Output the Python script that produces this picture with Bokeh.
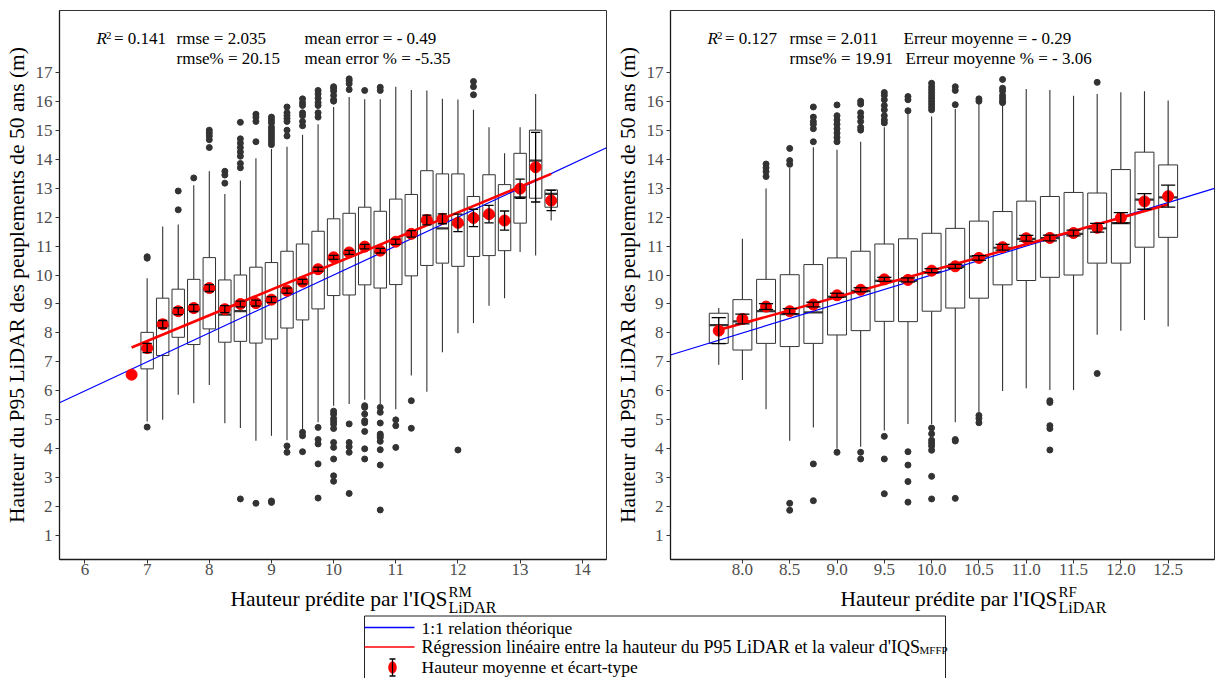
import numpy as np
from bokeh.plotting import figure
from bokeh.models import Range1d, Label, FixedTicker, NumeralTickFormatter
from bokeh.layouts import row, column
from bokeh.embed import file_html
from bokeh.resources import INLINE
from bokeh.core.properties import value

FONT = "Liberation Serif"

# ---------------- Left panel : IQS RM LiDAR ----------------
rm_pos = [7.0, 7.25, 7.5, 7.75, 8.0, 8.25, 8.5, 8.75, 9.0, 9.25, 9.5, 9.75, 10.0, 10.25,
          10.5, 10.75, 11.0, 11.25, 11.5, 11.75, 12.0, 12.25, 12.5, 12.75, 13.0, 13.25, 13.5]
rm_low = [4.94, 5.0, 5.87, 5.57, 6.2, 4.88, 4.72, 4.28, 4.45, 4.3, 4.63, 4.92, 5.49, 5.55,
          5.69, 5.55, 5.37, 6.53, 5.97, 7.33, 7.99, 8.34, 8.94, 9.2, 10.79, 10.67, 11.88]
rm_q1 = [6.76, 7.22, 7.85, 7.6, 8.14, 7.68, 7.71, 7.65, 7.79, 8.17, 8.45, 8.83, 9.29, 9.31,
         9.66, 9.55, 9.67, 9.97, 10.33, 10.41, 10.3, 10.64, 10.67, 10.84, 11.79, 12.65, 12.34]
rm_med = [7.45, 8.25, 8.7, 8.8, 9.5, 8.63, 8.75, 9.0, 9.1, 9.4, 9.75, 10.15, 10.55, 10.75,
          10.95, 10.8, 11.1, 11.4, 11.85, 11.61, 11.75, 11.95, 12.05, 11.85, 12.68, 13.95, 12.8]
rm_q3 = [8.02, 9.2, 9.51, 9.85, 10.6, 9.83, 10.0, 10.27, 10.43, 10.82, 11.07, 11.51, 11.94, 12.13,
         12.34, 12.2, 12.62, 12.78, 13.6, 13.49, 13.49, 12.71, 13.46, 13.12, 14.2, 15.0, 12.94]
rm_high = [9.89, 11.67, 11.74, 13.1, 13.58, 12.8, 13.26, 14.03, 14.35, 14.43, 14.84, 15.2, 15.8, 16.14,
           16.07, 16.07, 16.5, 16.39, 16.37, 16.08, 16.06, 15.7, 15.1, 14.2, 15.1, 16.25, 12.94]
rm_outliers = [
    [10.63, 10.58, 4.75], [], [12.9, 12.25], [13.35], [15.0, 14.9, 14.8, 14.67, 14.4],
    [13.58, 13.45, 13.17],
    [15.27, 14.7, 14.55, 14.4, 14.25, 14.1, 13.85, 13.7, 2.27],
    [15.55, 15.45, 15.3, 14.6, 2.12],
    [15.45, 15.35, 15.25, 15.1, 15.0, 14.9, 14.8, 14.7, 14.6, 14.5, 2.2, 2.15],
    [15.8, 15.6, 15.5, 15.4, 15.3, 15.0, 14.8, 4.1, 3.88],
    [16.08, 15.95, 15.85, 15.6, 15.5, 15.3, 15.15, 4.57, 4.45, 3.9],
    [16.37, 16.25, 16.1, 15.95, 15.85, 15.6, 15.45, 4.74, 4.32, 4.17, 3.48, 2.3],
    [16.5, 16.45, 16.35, 16.2, 16.05, 16.0, 5.3, 5.2, 5.05, 4.95, 4.85, 4.7, 4.22, 4.05, 3.65, 3.07, 2.88],
    [16.77, 16.7, 16.6, 16.4, 4.86, 4.22, 4.07, 3.88, 2.46],
    [16.37, 5.49, 5.43, 5.2, 4.97, 4.9, 4.6, 4.0, 3.65],
    [16.48, 16.37, 5.43, 5.26, 4.89, 4.51, 4.45, 4.39, 4.26, 3.97, 3.44, 1.89],
    [5.0, 4.8, 4.05], [5.66, 4.71], [], [], [3.96], [16.68, 16.5, 16.22], [], [], [], [], [],
]
rm_mean_x = [6.75, 7.0, 7.25, 7.5, 7.75, 8.0, 8.25, 8.5, 8.75, 9.0, 9.25, 9.5, 9.75, 10.0, 10.25,
             10.5, 10.75, 11.0, 11.25, 11.5, 11.75, 12.0, 12.25, 12.5, 12.75, 13.0, 13.25, 13.5]
rm_mean = [6.56, 7.48, 8.30, 8.75, 8.86, 9.55, 8.82, 9.0, 9.03, 9.15, 9.46, 9.77, 10.2, 10.61, 10.78,
           10.98, 10.84, 11.15, 11.42, 11.9, 11.94, 11.8, 11.97, 12.1, 11.88, 12.98, 13.72, 12.57]
rm_sd = [0.0, 0.16, 0.13, 0.12, 0.12, 0.12, 0.12, 0.1, 0.1, 0.1, 0.09, 0.08, 0.07, 0.07, 0.07,
         0.08, 0.08, 0.09, 0.11, 0.17, 0.17, 0.3, 0.3, 0.3, 0.33, 0.33, 1.2, 0.35]
rm_fit = (1.51, 0.8874)          # intercept, slope of the red regression line
rm_xticks = [6, 7, 8, 9, 10, 11, 12, 13, 14]
rm_stats = ["R", "2", "= 0.141", "rmse = 2.035", "mean error = - 0.49",
            "rmse% = 20.15", "mean error % = -5.35"]

# ---------------- Right panel : IQS RF LiDAR ----------------
rf_pos = [7.75, 8.0, 8.25, 8.5, 8.75, 9.0, 9.25, 9.5, 9.75, 10.0, 10.25, 10.5, 10.75, 11.0,
          11.25, 11.5, 11.75, 12.0, 12.25, 12.5]
rf_low = [6.9, 6.38, 5.37, 4.28, 4.74, 4.0, 4.07, 4.63, 4.86, 4.86, 4.92, 5.26, 6.0, 6.09,
          6.03, 6.03, 7.94, 8.08, 8.45, 8.22]
rf_q1 = [7.64, 7.41, 7.64, 7.53, 7.64, 7.93, 8.08, 8.4, 8.39, 8.75, 8.86, 9.2, 9.66, 9.81,
         9.92, 10.0, 10.41, 10.41, 10.96, 11.3]
rf_med = [8.27, 8.4, 8.75, 8.65, 8.71, 9.25, 9.45, 9.8, 9.8, 10.1, 10.28, 10.64, 10.94, 11.25,
          11.27, 11.42, 11.61, 11.79, 12.6, 12.68]
rf_q3 = [8.68, 9.15, 9.85, 10.01, 10.36, 10.59, 10.82, 11.07, 11.25, 11.44, 11.61, 11.86, 12.19, 12.55,
         12.71, 12.85, 12.83, 13.64, 14.24, 13.8]
rf_high = [8.86, 11.25, 12.99, 13.69, 14.41, 14.32, 14.6, 15.1, 15.56, 15.47, 15.73, 15.9, 15.85, 16.42,
           16.39, 16.19, 16.25, 16.31, 16.34, 16.02]
rf_outliers = [
    [], [], [13.83, 13.7, 13.57, 13.4], [14.37, 13.95, 13.82, 2.12, 1.88],
    [15.8, 15.45, 15.3, 15.2, 15.05, 14.6, 3.48, 2.21],
    [15.87, 15.5, 15.35, 15.2, 15.05, 14.9, 14.75, 14.6, 3.88],
    [16.0, 15.9, 15.6, 15.45, 15.3, 15.1, 15.0, 3.88, 3.65],
    [16.3, 16.2, 16.05, 15.85, 15.7, 15.5, 15.35, 15.25, 4.43, 3.65, 2.45],
    [16.16, 16.05, 15.67, 3.9, 3.44, 2.87, 2.16],
    [16.62, 16.5, 16.4, 16.3, 16.2, 16.1, 16.0, 15.9, 15.8, 15.7, 4.72, 4.52, 4.3, 4.2, 4.1, 3.95, 3.05, 2.27],
    [16.5, 16.37, 15.88, 4.32, 4.27, 2.29],
    [16.08, 16.0, 5.15, 5.05, 4.9],
    [16.75, 16.45, 16.35, 16.2, 16.1, 16.0, 15.95],
    [], [5.66, 5.6, 4.8, 4.7, 3.96], [], [16.65, 6.6], [], [], [],
]
rf_mean_x = rf_pos
rf_mean = [8.08, 8.48, 8.91, 8.75, 8.98, 9.3, 9.49, 9.85, 9.83, 10.15, 10.3, 10.59, 10.96, 11.27,
           11.28, 11.45, 11.63, 11.97, 12.54, 12.72]
rf_sd = [0.45, 0.17, 0.1, 0.09, 0.08, 0.07, 0.07, 0.07, 0.07, 0.07, 0.07, 0.08, 0.1, 0.1,
         0.1, 0.1, 0.15, 0.18, 0.27, 0.38]
rf_fit = (1.035, 0.9116)
rf_xticks = [8.0, 8.5, 9.0, 9.5, 10.0, 10.5, 11.0, 11.5, 12.0, 12.5]
rf_stats = ["R", "2", "= 0.127", "rmse = 2.011", "Erreur moyenne = - 0.29",
            "rmse% = 19.91", "Erreur moyenne % = - 3.06"]

y_ticks = list(range(1, 18))
y_title = "Hauteur du P95 LiDAR des peuplements de 50 ans (m)"
x_title = "Hauteur prédite par l'IQS"
x_title_sup = ["RM", "RF"]
x_title_sub = "LiDAR"
legend_texts = ["1:1 relation théorique",
                "Régression linéaire entre la hauteur du P95 LiDAR et la valeur d'IQS",
                "Hauteur moyenne et écart-type"]
legend_sub = "MFFP"

# ---------------- styling / layout constants ----------------
W = 1215
PANEL_H = 582
STRIP_H = 678 - PANEL_H
BOX_W = 0.2
EB_W = 0.15
Y_RANGE = (0.18, 19.13)
EDGE = "#333333"


def add_label(p, x, y, text, size="17px", style="normal", align="left"):
    p.add_layout(Label(x=x, y=y, x_units="screen", y_units="screen", text=text,
                       text_font=FONT, text_font_size=size, text_font_style=style,
                       text_align=align, text_baseline="alphabetic", text_color="black"))


def make_panel(width, bl, br, xr, xticks, xfmt, pos, low, q1, med, q3, high, outliers,
               mean_x, mean_y, sd, fit, stats, stat_x):
    p = figure(width=width, height=PANEL_H, output_backend="svg", toolbar_location=None,
               x_range=Range1d(*xr), y_range=Range1d(*Y_RANGE),
               min_border_left=bl, min_border_right=br, min_border_top=10, min_border_bottom=23,
               background_fill_color="white", border_fill_color="white")
    p.grid.visible = False
    p.outline_line_color = EDGE
    p.outline_line_width = 1

    pos = np.asarray(pos, float)
    low, q1, med, q3, high = (np.asarray(a, float) for a in (low, q1, med, q3, high))
    p.segment(pos, q3, pos, high, line_color=EDGE, line_width=1.1)
    p.segment(pos, low, pos, q1, line_color=EDGE, line_width=1.1)
    p.vbar(x=pos, width=BOX_W, bottom=q1, top=q3, fill_color="white", line_color=EDGE, line_width=1)
    p.segment(pos - BOX_W / 2, med, pos + BOX_W / 2, med, line_color=EDGE, line_width=2.2)

    ox = [x for x, o in zip(pos, outliers) for _ in o]
    oy = [v for o in outliers for v in o]
    p.scatter(ox, oy, size=6, color=EDGE)

    xs = np.array(xr, float)
    p.line(xs, xs, line_color="blue", line_width=1.2)
    fx = np.array([min(mean_x), max(mean_x)], float)
    p.line(fx, fit[0] + fit[1] * fx, line_color="red", line_width=2.6)

    mx = np.asarray(mean_x, float)
    my = np.asarray(mean_y, float)
    s = np.asarray(sd, float)
    p.scatter(mx, my, size=11, color="red")
    k = s > 0
    mx, my, s = mx[k], my[k], s[k]
    p.segment(mx, my - s, mx, my + s, line_color="black", line_width=1.3)
    p.segment(mx - EB_W / 2, my + s, mx + EB_W / 2, my + s, line_color="black", line_width=1.3)
    p.segment(mx - EB_W / 2, my - s, mx + EB_W / 2, my - s, line_color="black", line_width=1.3)

    for ax in (p.xaxis[0], p.yaxis[0]):
        ax.major_label_text_font = FONT
        ax.major_label_text_font_size = "17px"
        ax.major_label_text_color = "#4d4d4d"
        ax.axis_line_color = "#1a1a1a"
        ax.axis_line_width = 1.3
        ax.major_tick_line_color = EDGE
        ax.major_tick_out = 4
        ax.major_tick_in = 0
        ax.minor_tick_out = 0
        ax.minor_tick_in = 0
    p.xaxis.major_label_standoff = 0
    p.yaxis.major_label_standoff = 3
    p.xaxis.ticker = FixedTicker(ticks=xticks)
    p.yaxis.ticker = FixedTicker(ticks=y_ticks)
    p.xaxis.formatter = NumeralTickFormatter(format=xfmt)
    p.yaxis.formatter = NumeralTickFormatter(format="0")
    p.yaxis.axis_label = y_title
    p.yaxis.axis_label_text_font = FONT
    p.yaxis.axis_label_text_font_size = "21.5px"
    p.yaxis.axis_label_text_font_style = "normal"
    p.yaxis.axis_label_text_color = "black"
    p.yaxis.axis_label_standoff = 4

    # statistics annotation
    r_x, s1_x, s2_x, s2b_x = stat_x
    add_label(p, r_x, 521, stats[0], style="italic")
    add_label(p, r_x + 9.5, 524.5, stats[1], size="11px")
    add_label(p, r_x + 17.5, 521, stats[2])
    add_label(p, s1_x, 521, stats[3])
    add_label(p, s2_x, 521, stats[4])
    add_label(p, s1_x, 501, stats[5])
    add_label(p, s2b_x, 501, stats[6])
    return p


p1 = make_panel(612, 59, 6, (5.59, 14.39), rm_xticks, "0", rm_pos, rm_low, rm_q1, rm_med, rm_q3,
                rm_high, rm_outliers, rm_mean_x, rm_mean, rm_sd, rm_fit, rm_stats,
                (37, 117, 245, 245))
p2 = make_panel(W - 612, 58, 1, (7.24, 12.99), rf_xticks, "0.0", rf_pos, rf_low, rf_q1, rf_med, rf_q3,
                rf_high, rf_outliers, rf_mean_x, rf_mean, rf_sd, rf_fit, rf_stats,
                (37, 119, 233, 235))

# ---------------- bottom strip : x titles + legend (pixel coordinates, y downward) ----------------
strip = figure(width=W, height=STRIP_H, output_backend="svg", toolbar_location=None,
               x_range=Range1d(0, W), y_range=Range1d(STRIP_H, 0),
               x_axis_location=None, y_axis_location=None,
               min_border_left=0, min_border_right=0, min_border_top=0, min_border_bottom=0,
               background_fill_color="white", border_fill_color="white")
strip.grid.visible = False
strip.outline_line_color = None

TITLE_END = [447, 1057]           # right end of the main x title in each panel
strip.text(x=TITLE_END, y=[16, 16], text=[x_title, x_title], text_font=value(FONT),
           text_font_size="21.5px", text_align="right", text_baseline="alphabetic", text_color="black")
strip.text(x=[t + 1 for t in TITLE_END], y=[9.5, 9.5], text=x_title_sup, text_font=value(FONT),
           text_font_size="15px", text_align="left", text_baseline="alphabetic", text_color="black")
strip.text(x=[t + 1 for t in TITLE_END], y=[25, 25], text=[x_title_sub, x_title_sub], text_font=value(FONT),
           text_font_size="16px", text_align="left", text_baseline="alphabetic", text_color="black")

L_LEFT, L_RIGHT, L_TOP = 364, 945, 33.5
L_TEXT_X = 421
LINE_Y = [45, 64.5, 85]
TEXT_Y = [45, 64.5, 84]
strip.quad(left=[L_LEFT], right=[L_RIGHT], top=[L_TOP], bottom=[STRIP_H + 6],
           fill_color=None, line_color="#222222", line_width=1)
strip.line([L_LEFT, L_LEFT + 50], [LINE_Y[0]] * 2, line_color="blue", line_width=1.3)
strip.line([L_LEFT, L_LEFT + 50], [LINE_Y[1]] * 2, line_color="red", line_width=1.6)
sym_x, sym_y = L_LEFT + 28, LINE_Y[2]
strip.ellipse([sym_x], [sym_y], width=[7.5], height=[11.5], fill_color="red", line_color="red")
strip.segment([sym_x], [sym_y - 8.5], [sym_x], [sym_y + 8.5], line_color="black", line_width=1.3)
strip.segment([sym_x - 3], [sym_y - 8.5], [sym_x + 3], [sym_y - 8.5], line_color="black", line_width=1.3)
strip.segment([sym_x - 3], [sym_y + 8.5], [sym_x + 3], [sym_y + 8.5], line_color="black", line_width=1.3)
strip.text(x=[L_TEXT_X, L_TEXT_X], y=[TEXT_Y[0], TEXT_Y[2]], text=[legend_texts[0], legend_texts[2]],
           text_font=value(FONT), text_font_size="17.5px", text_align="left",
           text_baseline="alphabetic", text_color="black")
strip.text(x=[L_TEXT_X], y=[TEXT_Y[1]], text=[legend_texts[1]],
           text_font=value(FONT), text_font_size="18px", text_align="left",
           text_baseline="alphabetic", text_color="black")
strip.text(x=[919], y=[TEXT_Y[1] + 3], text=[legend_sub], text_font=value(FONT),
           text_font_size="11px", text_align="left", text_baseline="alphabetic", text_color="black")

layout = column(row(p1, p2), strip)
open("out.html", "w").write(file_html(layout, INLINE))
